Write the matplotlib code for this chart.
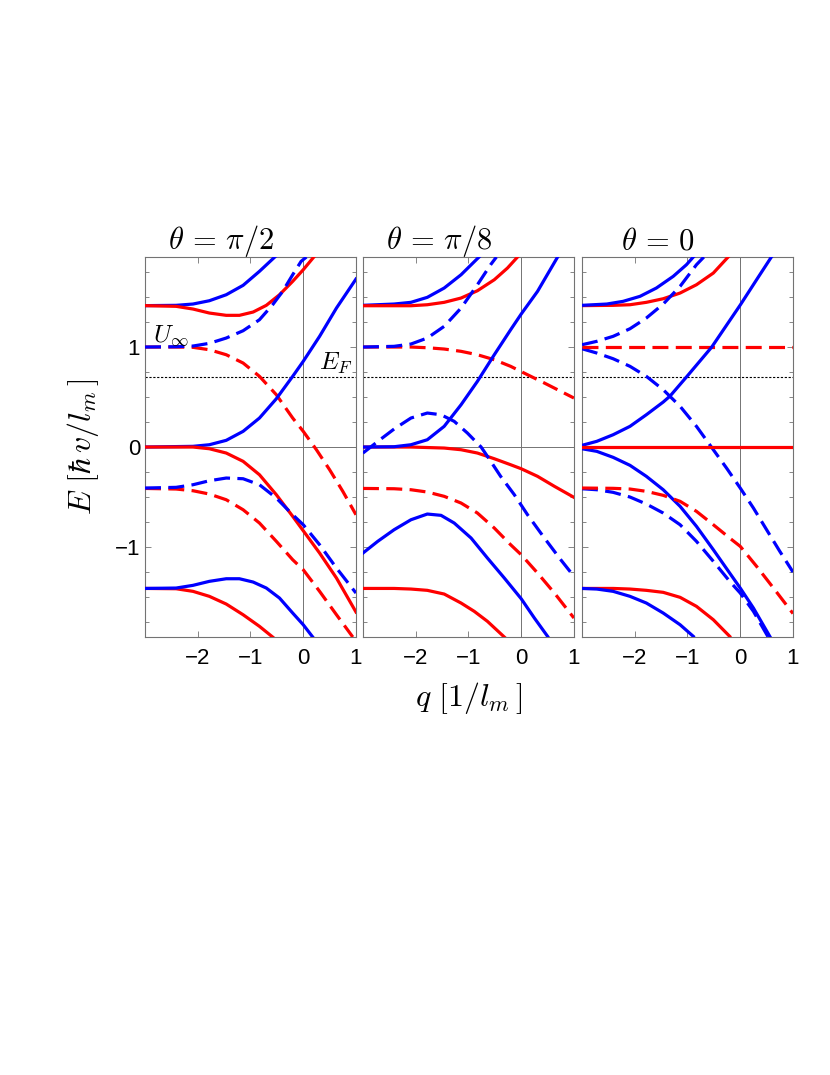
import matplotlib.pyplot as plt
import numpy as np

plt.rcParams['mathtext.fontset'] = 'cm'
plt.rcParams['font.family'] = ['Liberation Sans', 'DejaVu Sans']

# panel titles and axis setup
titles = [r'$\theta\,=\,\pi/2$', r'$\theta\,=\,\pi/8$', r'$\theta\,=\,0$']
x_ticks = [-2, -1, 0, 1]
x_ticklabels = ['\u22122', '\u22121', '0', '1']
y_ticks = [-1, 0, 1]
y_ticklabels = ['\u22121', '0', '1']
e_fermi = 0.7

# --- theta = pi/2 ---
p1_b1_x = [-3.0, -2.41, -2.09, -1.78, -1.46, -1.14, -0.83, -0.54]
p1_b1_y = [1.414, 1.417, 1.43, 1.463, 1.523, 1.617, 1.757, 1.9]
p1_r1_x = [-3.0, -2.41, -2.09, -1.78, -1.46, -1.21, -0.95, -0.70, -0.45, -0.2, 0.0, 0.2]
p1_r1_y = [1.414, 1.407, 1.38, 1.34, 1.317, 1.317, 1.35, 1.417, 1.523, 1.657, 1.773, 1.9]
p1_bd1_x = [-3.0, -2.41, -2.09, -1.78, -1.46, -1.14, -0.83, -0.58, -0.39, -0.2, -0.04, 0.06]
p1_bd1_y = [1.0, 1.003, 1.01, 1.037, 1.09, 1.163, 1.273, 1.423, 1.557, 1.723, 1.857, 1.9]
p1_rd1_x = [-3.0, -2.41, -2.09, -1.78, -1.46, -1.14, -0.83, -0.51, -0.2, 0.0, 0.25, 0.5, 0.75, 1.0]
p1_rd1_y = [1.0, 1.0, 0.997, 0.973, 0.923, 0.84, 0.707, 0.523, 0.29, 0.157, -0.027, -0.227, -0.443, -0.677]
p1_b2_x = [-3.0, -2.09, -1.78, -1.46, -1.14, -0.83, -0.51, -0.2, 0.0, 0.31, 0.63, 1.0]
p1_b2_y = [0.0, 0.007, 0.023, 0.067, 0.157, 0.29, 0.483, 0.707, 0.857, 1.107, 1.39, 1.68]
p1_r2_x = [-3.0, -2.09, -1.78, -1.46, -1.14, -0.83, -0.51, -0.2, 0.0, 0.31, 0.63, 1.0]
p1_r2_y = [0.0, 0.0, -0.017, -0.06, -0.143, -0.277, -0.477, -0.693, -0.837, -1.06, -1.31, -1.65]
p1_bd2_x = [-3.0, -2.41, -2.09, -1.78, -1.46, -1.14, -0.83, -0.51, -0.2, 0.0, 0.31, 0.63, 1.0]
p1_bd2_y = [-0.41, -0.403, -0.377, -0.337, -0.31, -0.317, -0.377, -0.51, -0.677, -0.777, -0.977, -1.21, -1.46]
p1_rd2_x = [-3.0, -2.41, -2.09, -1.78, -1.46, -1.14, -0.83, -0.51, -0.2, 0.0, 0.31, 0.63, 0.94]
p1_rd2_y = [-0.414, -0.42, -0.437, -0.47, -0.527, -0.627, -0.76, -0.943, -1.127, -1.227, -1.443, -1.677, -1.9]
p1_b3_x = [-3.0, -2.41, -2.09, -1.78, -1.46, -1.21, -0.95, -0.70, -0.45, -0.2, 0.0, 0.18]
p1_b3_y = [-1.414, -1.41, -1.383, -1.343, -1.317, -1.317, -1.35, -1.41, -1.51, -1.66, -1.777, -1.9]
p1_r3_x = [-3.0, -2.41, -2.09, -1.78, -1.46, -1.14, -0.83, -0.58]
p1_r3_y = [-1.414, -1.417, -1.443, -1.493, -1.57, -1.677, -1.793, -1.9]

# --- theta = pi/8 ---
p2_b1_x = [-3.0, -2.41, -2.09, -1.78, -1.46, -1.14, -0.80]
p2_b1_y = [1.417, 1.43, 1.447, 1.497, 1.59, 1.723, 1.9]
p2_r1_x = [-3.0, -2.09, -1.78, -1.46, -1.14, -0.83, -0.51, -0.26, -0.07]
p2_r1_y = [1.413, 1.413, 1.423, 1.447, 1.49, 1.563, 1.673, 1.79, 1.9]
p2_bd1_x = [-3.0, -2.41, -2.09, -1.78, -1.46, -1.14, -0.83, -0.58, -0.47]
p2_bd1_y = [1.0, 1.007, 1.03, 1.09, 1.207, 1.39, 1.623, 1.823, 1.9]
p2_rd1_x = [-3.0, -2.09, -1.78, -1.46, -1.14, -0.83, -0.51, -0.2, 0.12, 0.44, 0.75, 1.0]
p2_rd1_y = [1.0, 1.0, 0.993, 0.98, 0.957, 0.923, 0.873, 0.807, 0.723, 0.64, 0.557, 0.49]
p2_b2_x = [-3.0, -2.41, -2.09, -1.78, -1.46, -1.14, -0.83, -0.51, -0.2, 0.0, 0.31, 0.69]
p2_b2_y = [0.0, 0.003, 0.023, 0.073, 0.207, 0.423, 0.657, 0.923, 1.173, 1.33, 1.557, 1.9]
p2_r2_x = [-3.0, -2.09, -1.46, -1.14, -0.83, -0.51, -0.2, 0.0, 0.31, 0.63, 1.0]
p2_r2_y = [0.0, 0.0, -0.01, -0.027, -0.06, -0.117, -0.177, -0.217, -0.293, -0.393, -0.503]
p2_bd2_x = [-3.0, -2.66, -2.41, -2.09, -1.78, -1.52, -1.27, -1.02, -0.76, -0.64, -0.39, -0.13, 0.12, 0.44, 0.75, 0.95]
p2_bd2_y = [-0.06, 0.08, 0.18, 0.29, 0.34, 0.323, 0.257, 0.14, 0.0, -0.093, -0.293, -0.477, -0.677, -0.91, -1.127, -1.26]
p2_rd2_x = [-3.0, -2.41, -2.09, -1.78, -1.46, -1.14, -0.83, -0.51, -0.2, 0.0, 0.31, 0.63, 1.0]
p2_rd2_y = [-0.414, -0.417, -0.427, -0.45, -0.493, -0.56, -0.66, -0.81, -0.977, -1.077, -1.26, -1.46, -1.71]
p2_b3_x = [-3.0, -2.72, -2.41, -2.09, -1.78, -1.52, -1.27, -0.95, -0.64, -0.32, 0.0, 0.25, 0.5]
p2_b3_y = [-1.06, -0.943, -0.827, -0.727, -0.67, -0.683, -0.76, -0.91, -1.11, -1.31, -1.517, -1.71, -1.893]
p2_r3_x = [-3.0, -2.41, -2.09, -1.78, -1.46, -1.14, -0.89, -0.64, -0.32]
p2_r3_y = [-1.414, -1.414, -1.42, -1.433, -1.47, -1.56, -1.643, -1.743, -1.9]

# --- theta = 0 ---
p3_b1_x = [-3.0, -2.53, -2.22, -1.9, -1.59, -1.27, -1.02, -0.89]
p3_b1_y = [1.417, 1.43, 1.457, 1.507, 1.59, 1.707, 1.823, 1.9]
p3_r1_x = [-3.0, -2.41, -2.09, -1.78, -1.46, -1.14, -0.83, -0.51, -0.23]
p3_r1_y = [1.414, 1.417, 1.423, 1.447, 1.483, 1.54, 1.623, 1.74, 1.9]
p3_bd1_x = [-3.0, -2.72, -2.41, -2.09, -1.78, -1.46, -1.14, -0.83, -0.69]
p3_bd1_y = [1.023, 1.057, 1.107, 1.183, 1.29, 1.43, 1.607, 1.823, 1.9]
p3_rd1_x = [-3.0, 1.0]
p3_rd1_y = [1.0, 1.0]
p3_bd2_x = [-3.0, -2.72, -2.41, -2.09, -1.78, -1.46, -1.14, -0.83, -0.51, -0.26, 0.0, 0.25, 0.5, 0.75, 1.0]
p3_bd2_y = [0.983, 0.94, 0.883, 0.807, 0.707, 0.573, 0.407, 0.207, -0.027, -0.21, -0.41, -0.61, -0.827, -1.043, -1.25]
p3_b2_x = [-3.0, -2.72, -2.41, -2.09, -1.78, -1.46, -1.33, -1.02, -0.54, -0.27, 0.0, 0.31, 0.59]
p3_b2_y = [0.017, 0.057, 0.123, 0.207, 0.323, 0.45, 0.51, 0.70, 1.0, 1.21, 1.42, 1.673, 1.9]
p3_r2_x = [-3.0, 1.0]
p3_r2_y = [0.0, 0.0]
p3_b3_x = [-3.0, -2.72, -2.41, -2.09, -1.78, -1.46, -1.14, -0.83, -0.51, -0.2, 0.0, 0.25, 0.56]
p3_b3_y = [-0.017, -0.043, -0.103, -0.183, -0.293, -0.427, -0.593, -0.793, -1.027, -1.26, -1.41, -1.61, -1.893]
p3_rd2_x = [-3.0, -2.41, -2.09, -1.78, -1.46, -1.14, -0.83, -0.51, -0.2, 0.0, 0.31, 0.63, 1.0]
p3_rd2_y = [-0.41, -0.413, -0.42, -0.443, -0.483, -0.543, -0.643, -0.777, -0.91, -0.993, -1.193, -1.41, -1.665]
p3_bd3_x = [-3.0, -2.72, -2.41, -2.09, -1.78, -1.46, -1.14, -0.83, -0.51, -0.2, 0.0, 0.25, 0.53]
p3_bd3_y = [-0.417, -0.427, -0.453, -0.5, -0.57, -0.66, -0.777, -0.943, -1.143, -1.343, -1.46, -1.643, -1.9]
p3_r3_x = [-3.0, -2.41, -2.09, -1.78, -1.46, -1.14, -0.83, -0.51, -0.2]
p3_r3_y = [-1.414, -1.414, -1.42, -1.433, -1.453, -1.503, -1.593, -1.727, -1.893]
p3_b4_x = [-3.0, -2.72, -2.41, -2.09, -1.78, -1.46, -1.14, -0.89]
p3_b4_y = [-1.414, -1.42, -1.443, -1.493, -1.56, -1.66, -1.777, -1.893]

BLUE = '#0000ff'
RED = '#ff0000'

panels = [
    [(p1_b1_x, p1_b1_y, BLUE, '-'), (p1_r1_x, p1_r1_y, RED, '-'),
     (p1_rd1_x, p1_rd1_y, RED, '--'), (p1_bd1_x, p1_bd1_y, BLUE, '--'),
     (p1_b2_x, p1_b2_y, BLUE, '-'), (p1_r2_x, p1_r2_y, RED, '-'),
     (p1_rd2_x, p1_rd2_y, RED, '--'), (p1_bd2_x, p1_bd2_y, BLUE, '--'),
     (p1_r3_x, p1_r3_y, RED, '-'), (p1_b3_x, p1_b3_y, BLUE, '-')],
    [(p2_b1_x, p2_b1_y, BLUE, '-'), (p2_r1_x, p2_r1_y, RED, '-'),
     (p2_rd1_x, p2_rd1_y, RED, '--'), (p2_bd1_x, p2_bd1_y, BLUE, '--'),
     (p2_r2_x, p2_r2_y, RED, '-'), (p2_b2_x, p2_b2_y, BLUE, '-'),
     (p2_rd2_x, p2_rd2_y, RED, '--'), (p2_bd2_x, p2_bd2_y, BLUE, '--'),
     (p2_r3_x, p2_r3_y, RED, '-'), (p2_b3_x, p2_b3_y, BLUE, '-')],
    [(p3_r1_x, p3_r1_y, RED, '-'), (p3_b1_x, p3_b1_y, BLUE, '-'),
     (p3_bd1_x, p3_bd1_y, BLUE, '--'), (p3_bd2_x, p3_bd2_y, BLUE, '--'),
     (p3_rd1_x, p3_rd1_y, RED, '--'),
     (p3_b2_x, p3_b2_y, BLUE, '-'), (p3_b3_x, p3_b3_y, BLUE, '-'),
     (p3_r2_x, p3_r2_y, RED, '-'),
     (p3_bd3_x, p3_bd3_y, BLUE, '--'), (p3_rd2_x, p3_rd2_y, RED, '--'),
     (p3_r3_x, p3_r3_y, RED, '-'), (p3_b4_x, p3_b4_y, BLUE, '-')],
]

fig = plt.figure(figsize=(8.3, 10.75), dpi=100)
lefts = [0.1747, 0.4373, 0.7012]
bottom, width, height = 0.4074, 0.2542, 0.3535

for i, curves in enumerate(panels):
    ax = fig.add_axes([lefts[i], bottom, width, height])
    ax.axhline(0, color='0.45', lw=0.7, zorder=1)
    ax.axvline(0, color='0.45', lw=0.7, zorder=1)
    ax.axhline(e_fermi, color='k', lw=0.8, ls=(0, (2, 1.5)), zorder=1)
    for x, y, c, ls in curves:
        if ls == '--':
            ax.plot(x, y, color=c, lw=2.3, dashes=(5.0, 2.3),
                    solid_joinstyle='round', zorder=3)
        else:
            ax.plot(x, y, color=c, lw=2.3, solid_joinstyle='round', zorder=3)
    ax.set_xlim(-3, 1)
    ax.set_ylim(-1.9, 1.9)
    ax.set_xticks(x_ticks)
    ax.set_xticklabels(x_ticklabels)
    ax.set_yticks(y_ticks)
    ax.set_yticks(np.arange(-1.75, 1.9, 0.25), minor=True)
    ax.tick_params(which='both', direction='in', top=True, right=True,
                   color='0.45', labelsize=16, width=0.6)
    ax.tick_params(which='major', length=4)
    ax.tick_params(axis='x', pad=8)
    ax.tick_params(which='minor', length=3)
    for s in ax.spines.values():
        s.set_color('0.45')
        s.set_linewidth(0.8)
    if i == 0:
        ax.set_yticklabels(y_ticklabels)
        ax.set_ylabel(r'$E\ [\hbar\, v/l_m\,]$', fontsize=23, labelpad=10)
        ax.text(-2.85, 1.05, r'$U_\infty$', fontsize=18)
        ax.text(0.3, 0.77, r'$E_F$', fontsize=18)
    else:
        ax.set_yticklabels([])
    if i == 1:
        ax.set_xlabel(r'$q\ [1/l_m\,]$', fontsize=23, labelpad=8)
    ax.text(0.36, 1.02, titles[i], fontsize=22, ha='center', va='baseline',
            transform=ax.transAxes)

fig.savefig('out.png', dpi=100)
